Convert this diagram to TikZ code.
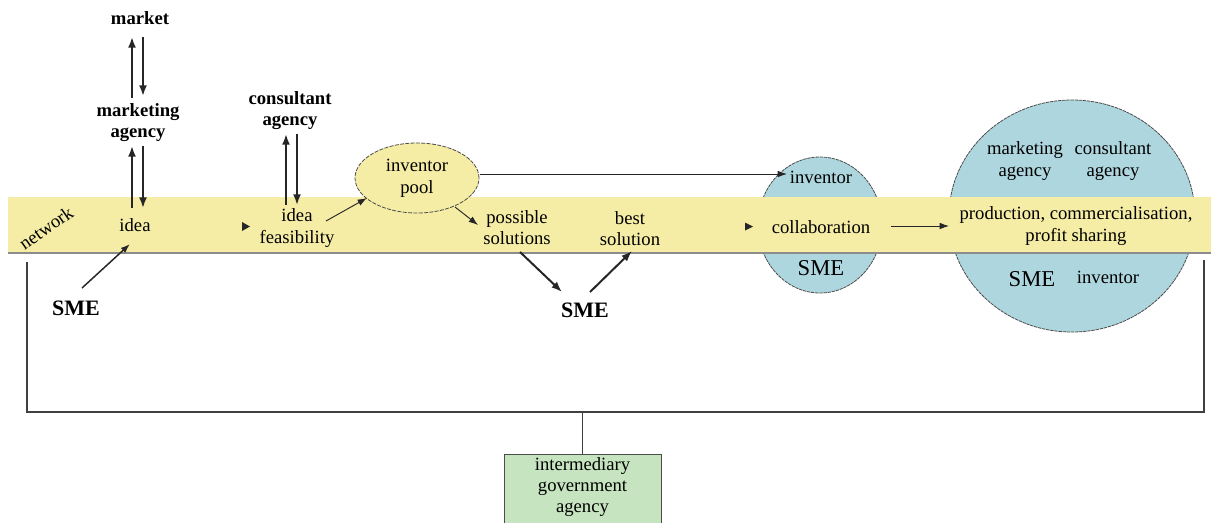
\documentclass[tikz,border=0pt]{standalone}
\usepackage{fontspec}
\setmainfont{Liberation Serif}
\usetikzlibrary{arrows.meta,shapes.geometric}
\definecolor{bandyellow}{HTML}{F5EDA5}
\definecolor{circblue}{HTML}{AED6DE}
\definecolor{boxgreen}{HTML}{C6E4BF}
\begin{document}
\begin{tikzpicture}[x=0.75pt,y=-0.75pt,
  txt/.style={font=\fontsize{14}{15.8}\selectfont, align=center, inner sep=1pt},
  btxt/.style={font=\fontsize{14}{15.8}\selectfont\bfseries, align=center, inner sep=1pt},
  smeb/.style={font=\fontsize{16.5}{18}\selectfont\bfseries, inner sep=1pt},
  smer/.style={font=\fontsize{17}{18}\selectfont, inner sep=1pt},
  thinarr/.style={draw=black!85, line width=0.7pt, -{Latex[length=7pt,width=5pt]}},
  thickarr/.style={draw=black!85, line width=1.5pt, -{Latex[length=8pt,width=6pt]}},
  bubble/.style={shape=ellipse, draw=black!70, line width=0.6pt, dash pattern=on 2.5pt off 0.6pt, fill=circblue, inner sep=0pt},
  pooldash/.style={shape=ellipse, draw=black!70, line width=0.6pt, dash pattern=on 3pt off 1pt, fill=bandyellow, inner sep=0pt},
  tipmark/.style={fill=black!85},
  frame/.style={draw=black!75, line width=0.9pt}]
\useasboundingbox (0,0) rectangle (1211,522);

% circles (behind the band)
\node[bubble, minimum width=93pt, minimum height=102pt] (collabc) at (820,225) {};
\node[bubble, minimum width=184.5pt, minimum height=174pt] (prodc) at (1072,216) {};

% band
\fill[bandyellow] (8,197) rectangle (1211,253);
\draw[black!45, line width=0.8pt] (8,253) -- (1211,253);

% inventor pool ellipse
\node[pooldash, minimum width=93pt, minimum height=52.5pt, align=center,
  font=\fontsize{14}{16.5}\selectfont] (pool) at (417,178) {inventor\\pool};

% texts
\node[btxt] (market) at (140,18) {market};
\node[btxt] (mktag) at (138,123) {marketing\\agency};
\node[btxt] (consag) at (290,111) {consultant\\agency};
\node[txt] (idea) at (135,225) {idea};
\node[txt, rotate=35] (network) at (46,228) {network};
\node[txt] (feas) at (297,228) {idea\\feasibility};
\node[txt] (poss) at (517,228) {possible\\solutions};
\node[txt] (best) at (630,229) {best\\solution};
\node[smeb] (sme1) at (76,308) {SME};
\node[smeb] (sme2) at (585,310) {SME};
\node[txt] (inv1) at (821,177) {inventor};
\node[txt] (collab) at (821,227) {collaboration};
\node[smer] (sme3) at (821,268) {SME};
\node[txt] (mkt2) at (1025,161) {marketing\\agency};
\node[txt] (cons2) at (1113,161) {consultant\\agency};
\node[txt] (prod) at (1076,226) {production, commercialisation,\\profit sharing};
\node[smer] (sme4) at (1032,279) {SME};
\node[txt] (inv2) at (1108,277) {inventor};

% green box
\node[draw=black!70, line width=0.7pt, fill=boxgreen, minimum width=117.75pt, minimum height=60pt,
  anchor=north, align=center, inner sep=0pt] (agency) at (582.5,454) {};
\node[txt, anchor=north] (agencytxt) at (582.5,456) {intermediary\\government\\agency};

% market <-> marketing agency
\coordinate (a1s) at (132,98); \coordinate (a1e) at (132,37);
\coordinate (a2s) at (143,37); \coordinate (a2e) at (143,96);
\draw[thickarr] (a1s) -- (a1e);
\draw[thickarr] (a2s) -- (a2e);
% marketing agency <-> idea
\coordinate (b1s) at (132,208); \coordinate (b1e) at (132,146);
\coordinate (b2s) at (143,146); \coordinate (b2e) at (143,208);
\draw[thickarr] (b1s) -- (b1e);
\draw[thickarr] (b2s) -- (b2e);
% consultant agency <-> feasibility
\coordinate (c1s) at (286,205); \coordinate (c1e) at (286,134);
\coordinate (c2s) at (297,134); \coordinate (c2e) at (297,205);
\draw[thickarr] (c1s) -- (c1e);
\draw[thickarr] (c2s) -- (c2e);

% SME -> idea
\coordinate (s1s) at (82,288); \coordinate (s1e) at (130,244);
\draw[thinarr, line width=1.1pt] (s1s) -- (s1e);
% feasibility -> pool
\coordinate (f1s) at (326,221); \coordinate (f1e) at (367,198);
\draw[thinarr] (f1s) -- (f1e);
% pool -> possible
\coordinate (p1s) at (455,207); \coordinate (p1e) at (478,225);
\draw[thinarr] (p1s) -- (p1e);
% pool -> inventor
\coordinate (p2s) at (480,174); \coordinate (p2e) at (787,174);
\draw[thinarr] (p2s) -- (p2e);
% possible -> SME -> best
\coordinate (q1s) at (520,252); \coordinate (q1e) at (562,292);
\coordinate (q2s) at (590,292); \coordinate (q2e) at (632,251);
\draw[thickarr] (q1s) -- (q1e);
\draw[thickarr] (q2s) -- (q2e);
% collaboration -> production
\coordinate (r1s) at (891,226); \coordinate (r1e) at (949,226);
\draw[thinarr] (r1s) -- (r1e);

% stand-alone arrow tips
\fill[tipmark] (242,222) -- (250,226.5) -- (242,231) -- cycle;
\fill[tipmark] (745,222.5) -- (753,226.5) -- (745,230.5) -- cycle;

% bracket to agency
\coordinate (brl) at (27,262); \coordinate (brr) at (1204,260);
\coordinate (brm) at (582.5,412);
\draw[frame] (brl) -- (27,412) -- (1204,412) -- (brr);
\draw[frame] (brm) -- (agency.north);
\end{tikzpicture}
\end{document}
